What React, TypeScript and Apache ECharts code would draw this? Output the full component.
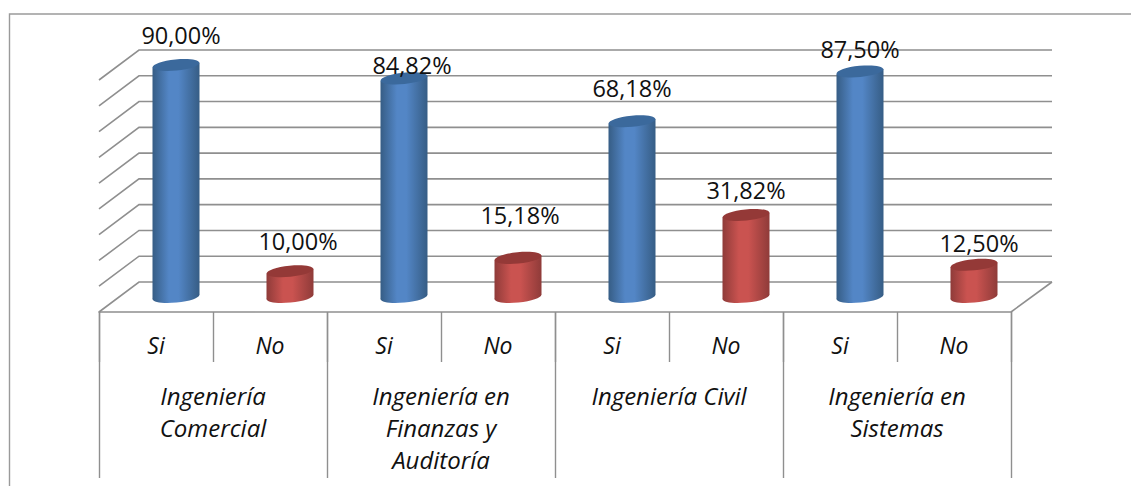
import React, { useEffect, useRef } from "react";
import * as echarts from "echarts";

const answers = ["Si", "No", "Si", "No", "Si", "No", "Si", "No"];
const careers = [
  "Ingeniería\nComercial",
  "Ingeniería en\nFinanzas y\nAuditoría",
  "Ingeniería Civil",
  "Ingeniería en\nSistemas",
];
const percentages = [90.0, 10.0, 84.82, 15.18, 68.18, 31.82, 87.5, 12.5];
const wallTicks = [0, 10, 20, 30, 40, 50, 60, 70, 80, 90];

// Hand placement of each data label relative to its bar's top, as in the reference.
const labelShiftX = [5, 8, 8, 2, 0, 0, 0, 5];
const labelGapY = [30, 30, 13, 43, 33, 25, 22, 22];

const FONT = "'Open Sans'";
const LINE = "#8f8f8f";
const DEPTH_X = 40;
const DEPTH_Y = 30;
const BAR_W = 47;
const TILT = 0.1;

const blue = { edge: "#365d85", mid: "#5386c6", top: "#3b699c" };
const red = { edge: "#8f3b39", mid: "#ca5350", top: "#943937" };

const barGradient = (c: { edge: string; mid: string }) => ({
  type: "linear",
  x: 0,
  y: 0,
  x2: 1,
  y2: 0,
  colorStops: [
    { offset: 0, color: c.edge },
    { offset: 0.35, color: c.mid },
    { offset: 0.55, color: c.mid },
    { offset: 1, color: c.edge },
  ],
});

const fmt = (v: number) => v.toFixed(2).replace(".", ",") + "%";

function renderWall(params: any, api: any) {
  const cs = params.coordSys;
  const y = api.coord([0, api.value(0)])[1];
  const children: any[] = [
    {
      type: "polyline",
      shape: {
        points: [
          [cs.x, y],
          [cs.x + DEPTH_X, y - DEPTH_Y],
          [cs.x + cs.width + DEPTH_X + 1, y - DEPTH_Y],
        ],
      },
      style: { stroke: LINE, lineWidth: 1.6, fill: "none" },
    },
  ];
  if (api.value(0) === 0) {
    children.push({
      type: "line",
      shape: {
        x1: cs.x + cs.width,
        y1: y,
        x2: cs.x + cs.width + DEPTH_X + 1,
        y2: y - DEPTH_Y,
      },
      style: { stroke: LINE, lineWidth: 1.6 },
    });
  }
  return { type: "group", children };
}

function renderBar(params: any, api: any) {
  const i = api.value(0);
  const v = api.value(1);
  const [cx0, yTop0] = api.coord([i, v]);
  const yBase0 = api.coord([i, 0])[1];
  const cx = cx0 + DEPTH_X / 2;
  const yTop = yTop0 - DEPTH_Y / 2;
  const yBase = yBase0 - DEPTH_Y / 2;
  const r = BAR_W / 2;
  const lift = r * Math.sin(TILT);
  const c = i % 2 === 0 ? blue : red;
  const fill = barGradient(c);
  const ellipse = (cy: number, style: any) => ({
    type: "ellipse",
    x: cx,
    y: cy,
    rotation: TILT,
    shape: { cx: 0, cy: 0, rx: r, ry: 5.6 },
    style,
  });
  return {
    type: "group",
    children: [
      ellipse(yBase, { fill }),
      {
        type: "polygon",
        shape: {
          points: [
            [cx - r, yTop + lift],
            [cx + r, yTop - lift],
            [cx + r, yBase - lift],
            [cx - r, yBase + lift],
          ],
        },
        style: { fill },
      },
      ellipse(yTop, { fill: c.top }),
      {
        type: "text",
        x: cx + labelShiftX[i],
        y: yTop - labelGapY[i],
        style: {
          text: fmt(v),
          font: `23.5px ${FONT}`,
          fill: "#111",
          align: "center",
          verticalAlign: "middle",
        },
      },
    ],
  };
}

export default function App() {
  const ref = useRef<HTMLDivElement>(null);
  useEffect(() => {
    const chart = echarts.init(ref.current!, undefined, { renderer: "svg" });
    chart.setOption({
      animation: false,
      backgroundColor: "#fff",
      grid: { left: 99, width: 912, top: 80, height: 232 },
      graphic: [
        {
          type: "polyline",
          shape: {
            points: [
              [9.5, 486],
              [9.5, 14],
              [1131, 14],
            ],
          },
          style: { stroke: "#9a9a9a", lineWidth: 1.4, fill: "none" },
        },
      ],
      xAxis: [
        {
          type: "category",
          data: answers,
          position: "bottom",
          axisLine: { show: true, lineStyle: { color: LINE, width: 1.6 } },
          axisTick: {
            show: true,
            alignWithLabel: false,
            length: 50,
            lineStyle: { color: LINE, width: 1.4 },
          },
          axisLabel: {
            interval: 0,
            margin: 21,
            fontFamily: FONT,
            fontStyle: "italic",
            fontSize: 23,
            color: "#111",
          },
        },
        {
          type: "category",
          data: careers,
          position: "bottom",
          axisLine: { show: false },
          axisTick: {
            show: true,
            length: 166,
            lineStyle: { color: LINE, width: 1.4 },
          },
          axisLabel: {
            interval: 0,
            margin: 67,
            fontFamily: FONT,
            fontStyle: "italic",
            fontSize: 24,
            lineHeight: 32,
            color: "#111",
            verticalAlign: "top",
          },
        },
      ],
      yAxis: {
        type: "value",
        min: 0,
        max: 90,
        interval: 10,
        show: false,
      },
      series: [
        {
          type: "custom",
          name: "wall",
          z: 1,
          clip: false,
          silent: true,
          renderItem: renderWall,
          data: wallTicks.map((t) => [t]),
          encode: { y: 0 },
        },
        {
          type: "custom",
          name: "share",
          z: 3,
          clip: false,
          renderItem: renderBar,
          data: percentages.map((p, i) => [i, p]),
          encode: { x: 0, y: 1 },
        },
      ],
    });
    return () => chart.dispose();
  }, []);
  return (
    <div
      ref={ref}
      style={{ position: "fixed", left: 0, top: 0, width: 1131, height: 486 }}
    />
  );
}
